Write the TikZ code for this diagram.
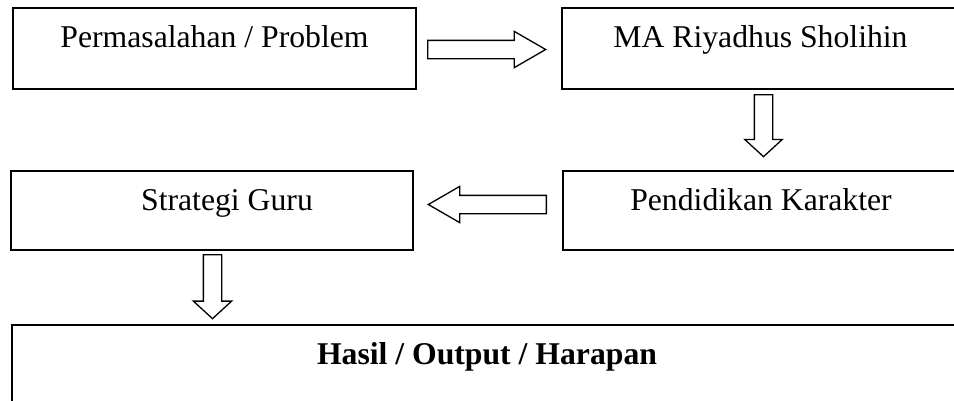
\documentclass[tikz,border=0pt]{standalone}
\usepackage{fontspec}
\setmainfont{Liberation Serif}
\usetikzlibrary{shapes.arrows}
\tikzset{
  kotak/.style={draw, line width=2pt, anchor=north west, inner sep=0pt, text height=39pt, font=\fontsize{31.7}{38}\selectfont},
  panah/.style={draw, line width=1.3pt, single arrow, anchor=tail, inner xsep=0pt, inner ysep=8.5pt, text height=0pt, text depth=0pt, single arrow head indent=0pt}
}
\begin{document}
\begin{tikzpicture}[x=1pt, y=-1pt]
  \clip (0,0) rectangle (954,400);
  % Kotak
  \node[kotak, minimum width=403pt, minimum height=81pt, text depth=42pt] (masalah) at (12,7) {Permasalahan / Problem};
  \node[kotak, minimum width=397pt, minimum height=81pt, text depth=42pt] (ma) at (561,7) {MA Riyadhus Sholihin};
  \node[kotak, minimum width=402pt, minimum height=79pt, text depth=40pt] (guru) at (10,170) {\hspace*{30pt}Strategi Guru};
  \node[kotak, minimum width=396pt, minimum height=79pt, text depth=40pt] (karakter) at (562,170) {Pendidikan Karakter};
  \node[kotak, minimum width=950pt, minimum height=100pt, text depth=61pt] (hasil) at (11,324) {\textbf{Hasil / Output / Harapan}};
  % Panah
  \node[panah, minimum height=118pt, single arrow head extend=9pt, single arrow tip angle=60] (p1) at (427,49.5) {};
  \node[panah, rotate=-90, minimum height=62pt, single arrow head extend=9.5pt, single arrow tip angle=95] (p2) at (763.5,94) {};
  \node[panah, rotate=180, minimum height=118pt, single arrow head extend=9pt, single arrow tip angle=60] (p3) at (547,204.5) {};
  \node[panah, rotate=-90, minimum height=64pt, single arrow head extend=10pt, single arrow tip angle=95] (p4) at (212.5,254) {};
\end{tikzpicture}
\end{document}
